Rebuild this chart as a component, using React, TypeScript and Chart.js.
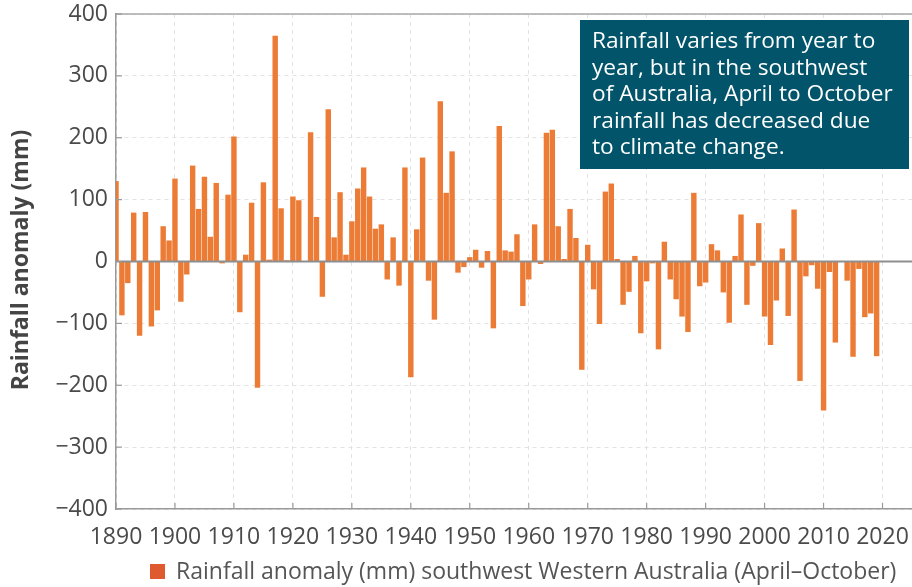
import React, { useEffect, useRef } from 'react';
import { Chart, registerables } from 'chart.js';

Chart.register(...registerables);

// ---- Data ----
const START_YEAR = 1890;
const rainfallAnomaly = [
  130, -87, -35, 79, -120, 80, -105, -79, 57, 34,
  134, -65, -21, 155, 85, 137, 40, 127, -3, 108,
  202, -82, 11, 95, -204, 128, 3, 365, 86, 2,
  105, 99, 0, 209, 72, -57, 246, 39, 112, 11,
  65, 118, 152, 105, 53, 60, -29, 39, -39, 152,
  -187, 52, 168, -31, -94, 259, 111, 178, -18, -9,
  7, 19, -10, 17, -108, 219, 18, 16, 44, -72,
  -29, 60, -4, 208, 213, 57, 4, 85, 38, -175,
  27, -45, -101, 113, 126, 4, -70, -49, 9, -116,
  -32, -3, -142, 32, -29, -61, -89, -114, 111, -40,
  -34, 28, 18, -50, -99, 9, 76, -70, -7, 62,
  -89, -135, -63, 21, -88, 84, -193, -24, -6, -44,
  -241, -17, -131, 0, -31, -154, -12, -90, -84, -153,
];
const years = rainfallAnomaly.map((_, i) => START_YEAR + i);
const xTickYears = [1890, 1900, 1910, 1920, 1930, 1940, 1950, 1960, 1970, 1980, 1990, 2000, 2010, 2020];
const yTickValues = [-400, -300, -200, -100, 0, 100, 200, 300, 400];
const X_MIN = 1890;
const X_MAX = 2025;
const Y_MIN = -400;
const Y_MAX = 400;

const yTitle = 'Rainfall anomaly (mm)';
const legendLabel = 'Rainfall anomaly (mm) southwest Western Australia (April\u2013October)';
const noteLines = [
  'Rainfall varies from year to',
  'year, but in the southwest',
  'of Australia, April to October',
  'rainfall has decreased due',
  'to climate change.',
];

const BAR_COLOR = '#EC7C35';
const LEGEND_COLOR = '#E05A30';
const NOTE_BG = '#01546A';
const FONT = "'Open Sans', 'Noto Sans', sans-serif";

const decorPlugin = {
  id: 'decor',
  afterDatasetsDraw(chart: any) {
    const { ctx, chartArea: a, scales } = chart;
    const x = scales.x;
    const y = scales.y;
    ctx.save();
    const line = (x1: number, y1: number, x2: number, y2: number) => {
      ctx.beginPath();
      ctx.moveTo(x1, y1);
      ctx.lineTo(x2, y2);
      ctx.stroke();
    };
    // zero line
    const y0 = y.getPixelForValue(0);
    ctx.strokeStyle = '#8e8e8e';
    ctx.lineWidth = 2;
    line(a.left, y0, a.right, y0);
    // top border
    ctx.strokeStyle = '#a8a8a8';
    ctx.lineWidth = 1.5;
    line(a.left, a.top, a.right, a.top);
    // inner tick marks
    ctx.strokeStyle = '#9a9a9a';
    ctx.lineWidth = 1.2;
    yTickValues.forEach((v) => {
      const py = y.getPixelForValue(v);
      line(a.left, py, a.left + 6, py);
    });
    xTickYears.forEach((v) => {
      const px = x.getPixelForValue(v);
      line(px, a.bottom, px, a.bottom - 6);
    });

    // note box
    const bx = 580, by = 20, bw = 329, bh = 149;
    ctx.fillStyle = NOTE_BG;
    ctx.fillRect(bx, by, bw, bh);
    ctx.fillStyle = '#ffffff';
    ctx.font = `22.7px ${FONT}`;
    ctx.textAlign = 'left';
    ctx.textBaseline = 'alphabetic';
    noteLines.forEach((t, i) => {
      ctx.fillText(t, 592, 48 + i * 26.6);
    });

    // y title
    ctx.save();
    ctx.translate(21, 260);
    ctx.rotate(-Math.PI / 2);
    ctx.fillStyle = '#444444';
    ctx.font = `bold 23px ${FONT}`;
    ctx.textAlign = 'center';
    ctx.textBaseline = 'middle';
    ctx.fillText(yTitle, 0, 0);
    ctx.restore();

    // legend
    ctx.fillStyle = LEGEND_COLOR;
    ctx.fillRect(150, 564, 15, 15);
    ctx.fillStyle = '#555555';
    ctx.font = `23px ${FONT}`;
    ctx.textAlign = 'left';
    ctx.textBaseline = 'middle';
    ctx.fillText(legendLabel, 176, 572);

    ctx.restore();
  },
};

export default function App() {
  const ref = useRef<HTMLCanvasElement>(null);

  useEffect(() => {
    document.body.style.margin = '0';
    const canvas = ref.current;
    if (!canvas) return;
    const chart = new Chart(canvas, {
      type: 'bar',
      data: {
        datasets: [
          {
            label: legendLabel,
            data: years.map((yr, i) => ({ x: yr, y: rainfallAnomaly[i] })),
            backgroundColor: BAR_COLOR,
            borderWidth: 0,
            barPercentage: 0.92,
            categoryPercentage: 1,
            clip: 0,
          } as any,
        ],
      },
      options: {
        animation: false,
        responsive: true,
        maintainAspectRatio: false,
        layout: { padding: { left: 0, right: 0, top: 14, bottom: 0 } },
        plugins: {
          legend: { display: false },
          tooltip: { enabled: false },
        },
        scales: {
          x: {
            type: 'linear',
            offset: false,
            min: X_MIN,
            max: X_MAX,
            afterBuildTicks: (scale: any) => {
              scale.ticks = xTickYears.map((v) => ({ value: v }));
            },
            afterFit: (scale: any) => {
              scale.height = 78;
              scale.paddingLeft = 0;
              scale.paddingRight = 0;
            },
            grid: {
              color: '#e2e2e2',
              lineWidth: 1,
              drawTicks: false,
              offset: false,
            },
            border: { display: true, color: '#9a9a9a', width: 1.5, dash: [4, 4] },
            ticks: {
              autoSkip: false,
              maxRotation: 0,
              padding: 15,
              color: '#4a4a4a',
              font: { family: FONT, size: 23 },
              callback: (v: any) => String(v),
            },
          },
          y: {
            type: 'linear',
            min: Y_MIN,
            max: Y_MAX,
            afterBuildTicks: (scale: any) => {
              scale.ticks = yTickValues.map((v) => ({ value: v }));
            },
            afterFit: (scale: any) => {
              scale.width = 116;
              scale.paddingTop = 0;
              scale.paddingBottom = 0;
            },
            grid: {
              color: '#e2e2e2',
              lineWidth: 1,
              drawTicks: false,
            },
            border: { display: true, color: '#9a9a9a', width: 1.5, dash: [4, 4] },
            ticks: {
              padding: 8,
              color: '#4a4a4a',
              font: { family: FONT, size: 23 },
              callback: (v: any) => (v < 0 ? '\u2212' + Math.abs(v) : String(v)),
            },
          },
        },
      },
      plugins: [decorPlugin],
    });
    return () => chart.destroy();
  }, []);

  return (
    <div style={{ position: 'relative', width: 912, height: 587 }}>
      <canvas ref={ref} />
    </div>
  );
}
